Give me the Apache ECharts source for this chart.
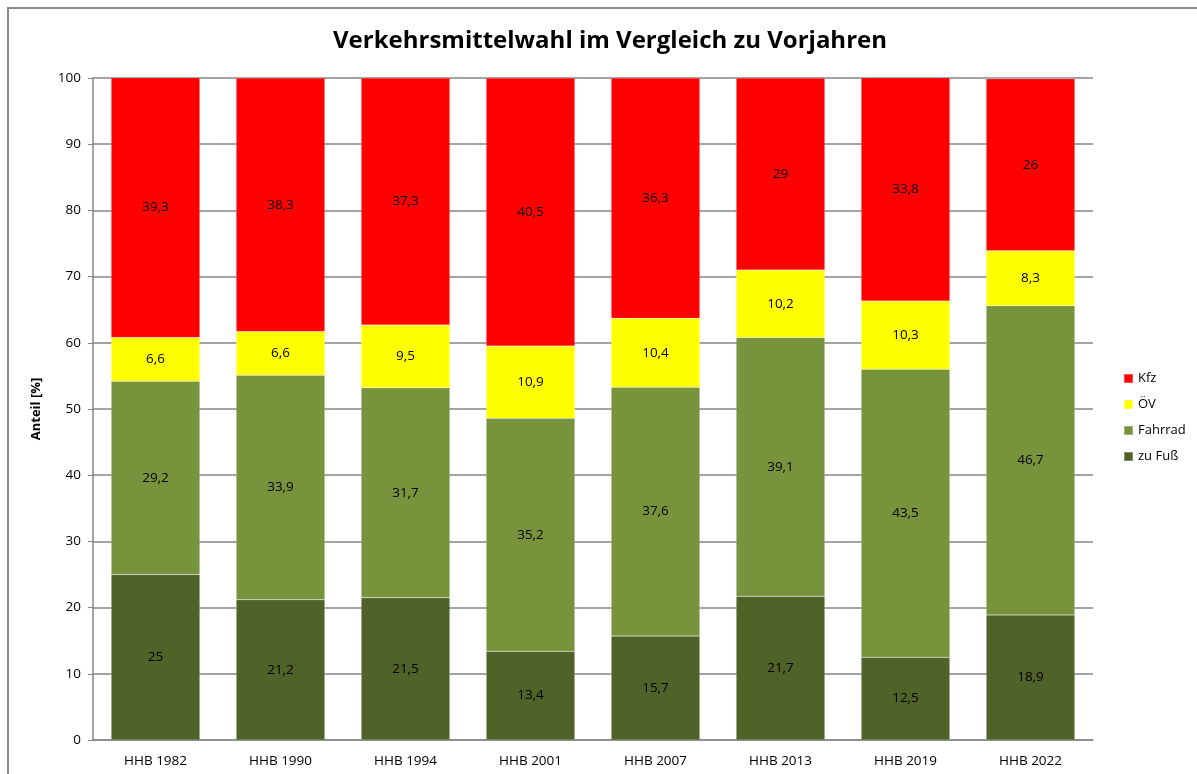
<!DOCTYPE html>
<html><head><meta charset="utf-8">
<script src="https://cdn.jsdelivr.net/npm/echarts@6/dist/echarts.min.js"></script>
<style>html,body{margin:0;padding:0;background:#fff}#c{width:1197px;height:774px}</style>
</head><body><div id="c"></div>
<script>
const categories = ['HHB 1982','HHB 1990','HHB 1994','HHB 2001','HHB 2007','HHB 2013','HHB 2019','HHB 2022'];
const zuFuss  = [25, 21.2, 21.5, 13.4, 15.7, 21.7, 12.5, 18.9];
const fahrrad = [29.2, 33.9, 31.7, 35.2, 37.6, 39.1, 43.5, 46.7];
const oev     = [6.6, 6.6, 9.5, 10.9, 10.4, 10.2, 10.3, 8.3];
const kfz     = [39.3, 38.3, 37.3, 40.5, 36.3, 29, 33.8, 26];
const yTicks  = [0,10,20,30,40,50,60,70,80,90,100];

const FONT = 'Open Sans';
const chart = echarts.init(document.getElementById('c'));
function ser(name, data, color){
  return {name, type:'bar', stack:'a', data, barWidth:'71%',
    itemStyle:{color, borderColor:'rgba(255,255,255,0.3)', borderWidth:0.5},
    label:{show:true, position:'inside', color:'#000', fontFamily:FONT, fontSize:13.5,
      formatter:p=>String(p.value).replace('.', ',')},
    emphasis:{disabled:true}};
}
chart.setOption({
  animation:false,
  textStyle:{fontFamily:FONT},
  title:{text:'Verkehrsmittelwahl im Vergleich zu Vorjahren', left:605, textAlign:'center', top:24,
    textStyle:{fontFamily:FONT, fontWeight:'bold', fontSize:24, color:'#000'}},
  graphic:[{type:'rect', shape:{x:8,y:8,width:1300,height:900}, style:{fill:'none', stroke:'#8c8c8c', lineWidth:2}, silent:true}],
  legend:{orient:'vertical', left:1118, top:367, itemGap:13, itemWidth:9, itemHeight:9, icon:'rect',
    data:['Kfz','ÖV','Fahrrad','zu Fuß'],
    textStyle:{fontFamily:FONT, fontSize:13, color:'#000'}},
  grid:{left:93, right:104, top:78, bottom:34},
  xAxis:{type:'category', data:categories,
    axisLine:{lineStyle:{color:'#868686', width:1.5}}, axisTick:{show:false},
    axisLabel:{color:'#000', fontFamily:FONT, fontSize:13.5, margin:14}},
  yAxis:{type:'value', min:0, max:100, interval:10,
    name:'Anteil [%]', nameLocation:'middle', nameGap:50, nameRotate:90,
    nameTextStyle:{fontFamily:FONT, fontWeight:'bold', fontSize:13, color:'#000'},
    axisLine:{show:true, lineStyle:{color:'#868686', width:1.5}},
    axisTick:{show:true, length:5, lineStyle:{color:'#868686'}},
    axisLabel:{color:'#000', fontFamily:FONT, fontSize:13.5, margin:12,
      formatter:v=> yTicks.includes(v)? String(v):''},
    splitLine:{lineStyle:{color:'#868686', width:1.5}}},
  series:[ser('zu Fuß', zuFuss, '#4F6228'), ser('Fahrrad', fahrrad, '#77933C'),
          ser('ÖV', oev, '#FFFF00'), ser('Kfz', kfz, '#FF0000')]
});
</script></body></html>
